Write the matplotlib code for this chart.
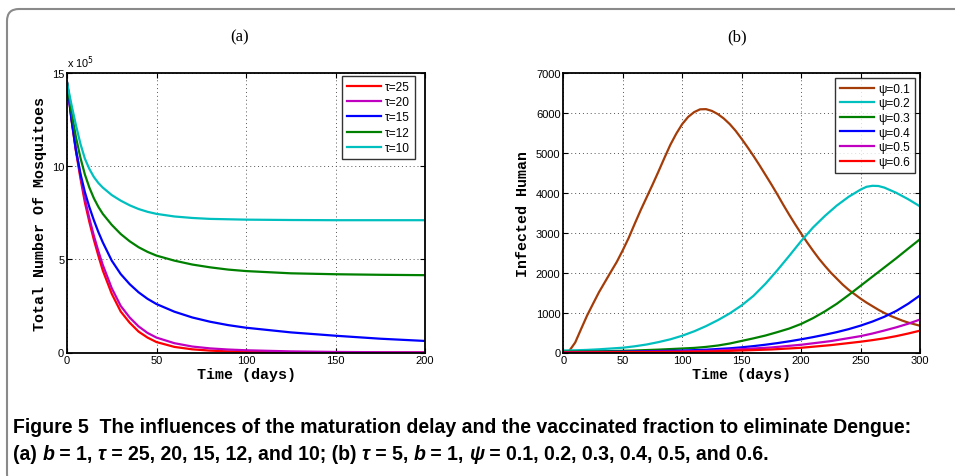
import matplotlib
matplotlib.use("Agg")
import matplotlib.pyplot as plt
from matplotlib.patches import FancyBboxPatch
from matplotlib.transforms import IdentityTransform

# ---------------- data ----------------
# Panel (a): total number of mosquitoes (units of 1e5)
t_a = [0, 2.5, 5, 7.5, 10, 12.5, 15, 17.5, 20, 25, 30, 35, 40, 45, 50, 60, 70, 80, 90, 100,
       125, 150, 175, 200]
tau25 = [14.5, 12.5, 10.8, 9.35, 8.05, 7.0, 6.05, 5.2, 4.4, 3.15, 2.2, 1.6, 1.12, 0.8, 0.56,
         0.3, 0.17, 0.1, 0.06, 0.04, 0.015, 0.005, 0.0, 0.0]
tau20 = [14.5, 12.6, 10.9, 9.5, 8.24, 7.2, 6.27, 5.45, 4.7, 3.45, 2.5, 1.88, 1.4, 1.05, 0.8,
         0.5, 0.32, 0.22, 0.16, 0.12, 0.06, 0.03, 0.015, 0.01]
tau15 = [14.5, 12.5, 10.85, 9.6, 8.6, 7.8, 7.1, 6.47, 5.91, 4.93, 4.21, 3.67, 3.23, 2.88, 2.6,
         2.19, 1.88, 1.65, 1.47, 1.33, 1.08, 0.9, 0.74, 0.62]
tau12 = [14.5, 12.9, 11.55, 10.45, 9.55, 8.85, 8.28, 7.82, 7.44, 6.85, 6.36, 5.97, 5.65, 5.4,
         5.2, 4.93, 4.72, 4.57, 4.45, 4.37, 4.25, 4.2, 4.17, 4.15]
tau10 = [14.5, 13.3, 12.2, 11.2, 10.4, 9.85, 9.42, 9.1, 8.85, 8.45, 8.15, 7.9, 7.7, 7.55, 7.44,
         7.3, 7.22, 7.17, 7.15, 7.13, 7.11, 7.1, 7.1, 7.1]
labels_a = ["τ=25", "τ=20", "τ=15", "τ=12", "τ=10"]
colors_a = ["#ff0000", "#c000c0", "#0000ff", "#008000", "#00bfbf"]

# Panel (b): infected human
t_psi01 = list(range(0, 301, 5))
psi01 = [0, 40, 250, 590, 925, 1220, 1510, 1765, 2020, 2270, 2560, 2870, 3220, 3560, 3880,
         4200, 4530, 4870, 5200, 5480, 5720, 5900, 6020, 6090, 6095, 6050, 5970, 5860, 5720,
         5550, 5350, 5140, 4920, 4690, 4450, 4210, 3960, 3700, 3450, 3210, 2980, 2760, 2550,
         2350, 2170, 2000, 1850, 1700, 1570, 1460, 1350, 1250, 1160, 1070, 990, 920, 860,
         800, 750, 710, 670]
t_psi02 = [0, 10, 20, 30, 40, 50, 60, 70, 80, 90, 100, 110, 120, 130, 140, 150, 160, 170,
           180, 190, 200, 210, 220, 230, 240, 250, 255, 260, 265, 270, 280, 290, 300]
psi02 = [50, 55, 65, 80, 100, 120, 155, 200, 260, 330, 420, 530, 660, 810, 980, 1180, 1420,
         1720, 2060, 2420, 2790, 3130, 3420, 3680, 3900, 4080, 4150, 4175, 4170, 4130, 4000,
         3840, 3660]
t_psi03 = [0, 20, 40, 60, 80, 100, 110, 120, 130, 140, 150, 160, 170, 180, 190, 200, 210,
           220, 230, 240, 250, 260, 270, 280, 290, 300]
psi03 = [20, 26, 35, 50, 72, 100, 115, 140, 175, 225, 290, 355, 425, 510, 600, 715, 860,
         1030, 1220, 1440, 1670, 1900, 2130, 2360, 2600, 2837]
t_psi04 = [0, 50, 100, 120, 140, 150, 160, 170, 180, 190, 200, 210, 220, 230, 240, 250, 260,
           270, 280, 290, 300]
psi04 = [10, 20, 48, 70, 105, 130, 160, 195, 235, 280, 330, 385, 445, 510, 585, 673, 775,
         895, 1040, 1220, 1430]
t_psi05 = [0, 50, 100, 125, 150, 175, 200, 225, 250, 260, 270, 280, 290, 300]
psi05 = [5, 12, 26, 45, 84, 126, 194, 285, 410, 475, 550, 630, 720, 825]
t_psi06 = [0, 50, 100, 125, 150, 175, 200, 225, 250, 260, 270, 280, 290, 300]
psi06 = [0, 8, 16, 27, 50, 76, 118, 185, 270, 310, 355, 410, 475, 547]
labels_b = ["ψ=0.1", "ψ=0.2", "ψ=0.3", "ψ=0.4", "ψ=0.5", "ψ=0.6"]
colors_b = ["#a33c08", "#00bfbf", "#008000", "#0000ff", "#c000c0", "#ff0000"]

xticks_a = [0, 50, 100, 150, 200]
yticks_a = [0, 5, 10, 15]
xticks_b = [0, 50, 100, 150, 200, 250, 300]
yticks_b = [0, 1000, 2000, 3000, 4000, 5000, 6000, 7000]

# ---------------- figure ----------------
W, H = 955, 477
fig = plt.figure(figsize=(W / 100, H / 100), dpi=100)
fig.patch.set_facecolor("white")

# rounded frame
frame = FancyBboxPatch((7, -10), 980, H - 6 + 10 - 4, boxstyle="round,pad=0,rounding_size=12",
                       transform=IdentityTransform(), fill=False, edgecolor="#8a8a8a",
                       linewidth=1.5, clip_on=False)
fig.patches.append(frame)

tick_font = dict(family=["Liberation Sans", "DejaVu Sans"], size=8)
label_font = dict(family=["Liberation Mono", "DejaVu Sans Mono"], weight="bold", size=10.8)
legend_prop = dict(family=["Liberation Sans", "DejaVu Sans"], size=8.6)


def style_axes(ax, xt, yt, xl, yl):
    ax.set_xticks(xt)
    ax.set_yticks(yt)
    ax.tick_params(direction="in", length=3.5, width=0.8, top=True, right=True, pad=2)
    for lab in ax.get_xticklabels() + ax.get_yticklabels():
        lab.set_fontfamily(tick_font["family"])
        lab.set_fontsize(tick_font["size"])
    ax.grid(True, linestyle=(0, (1, 3)), color="#555555", linewidth=0.7)
    for sp in ax.spines.values():
        sp.set_linewidth(1.3)
    ax.set_xlabel(xl, **label_font)
    ax.set_ylabel(yl, **label_font)


# panel (a)
aw, ah = 425 - 67, 353.5 - 74
ax1 = fig.add_axes([67 / W, 1 - 353.5 / H, aw / W, ah / H])
for y, lab, c in zip([tau25, tau20, tau15, tau12, tau10], labels_a, colors_a):
    ax1.plot(t_a, y, color=c, linewidth=1.6, label=lab, solid_joinstyle="round")
ax1.set_xlim(0, 200)
ax1.set_ylim(0, 15)
style_axes(ax1, xticks_a, yticks_a, "Time (days)", "Total Number Of Mosquitoes")
ax1.xaxis.set_label_coords(0.5, -0.077)
ax1.xaxis.label.set_va("center")
ax1.yaxis.set_label_coords((40 - 67) / aw, 0.5)
ax1.yaxis.label.set_va("center")
ax1.text(0.0, 1.012, r"x 10$^{5}$", transform=ax1.transAxes, ha="left", va="bottom",
         fontfamily=["Liberation Sans", "DejaVu Sans"], fontsize=7.8)
leg1 = ax1.legend(loc="upper right", bbox_to_anchor=(1 - 10 / aw, 1 - 3 / ah),
                  borderaxespad=0, prop=legend_prop, frameon=True, fancybox=False,
                  edgecolor="black", handlelength=2.9, labelspacing=0.28,
                  handletextpad=0.35, borderpad=0.4)
leg1.get_frame().set_linewidth(1.0)

# panel (b)
bw = 920 - 563.3
ax2 = fig.add_axes([563.3 / W, 1 - 353.5 / H, bw / W, ah / H])
for x, y, lab, c in zip([t_psi01, t_psi02, t_psi03, t_psi04, t_psi05, t_psi06],
                        [psi01, psi02, psi03, psi04, psi05, psi06], labels_b, colors_b):
    ax2.plot(x, y, color=c, linewidth=1.6, label=lab, solid_joinstyle="round")
ax2.set_xlim(0, 300)
ax2.set_ylim(0, 7000)
style_axes(ax2, xticks_b, yticks_b, "Time (days)", "Infected Human")
ax2.xaxis.set_label_coords(0.5, -0.077)
ax2.xaxis.label.set_va("center")
ax2.yaxis.set_label_coords((523 - 563.3) / bw, 0.5)
ax2.yaxis.label.set_va("center")
leg2 = ax2.legend(loc="upper right", bbox_to_anchor=(1 - 5 / bw, 1 - 5 / ah),
                  borderaxespad=0, prop=legend_prop, frameon=True, fancybox=False,
                  edgecolor="black", handlelength=2.9, labelspacing=0.22,
                  handletextpad=0.35, borderpad=0.4)
leg2.get_frame().set_linewidth(1.0)

# panel titles
title_font = dict(family=["Liberation Serif", "DejaVu Serif"], size=12)
fig.text(240 / W, 1 - 37 / H, "(a)", ha="center", va="center", **title_font)
fig.text(737 / W, 1 - 37 / H, "(b)", ha="center", va="center", **title_font)

# caption
renderer = fig.canvas.get_renderer()
line1 = [("Figure 5  The influences of the maturation delay and the vaccinated fraction to eliminate Dengue:", "normal")]
line2 = [("(a) ", "normal"), ("b", "italic"), (" = 1, ", "normal"), ("τ", "italic"),
         (" = 25, 20, 15, 12, and 10; (b) ", "normal"), ("τ", "italic"), (" = 5, ", "normal"),
         ("b", "italic"), (" = 1, ", "normal"), ("ψ", "italic"),
         (" = 0.1, 0.2, 0.3, 0.4, 0.5, and 0.6.", "normal")]

# choose the most condensed available bold sans so line 1 spans ~900 px with the tallest glyphs
best = None
for fam, stretch in [(["DejaVu Sans"], "condensed"), (["Liberation Sans", "DejaVu Sans"], "normal")]:
    probe = fig.text(0, 0, line1[0][0], fontsize=10, fontweight="bold", family=fam,
                     fontstretch=stretch, transform=IdentityTransform())
    pw = probe.get_window_extent(renderer).width
    probe.remove()
    size = 10 * 900 / pw
    if best is None or size > best[2]:
        best = (fam, stretch, size)
cap_family, cap_stretch, cap_size = best


def draw_pieces(x0, y_center, pieces, size):
    x = x0
    for s, style in pieces:
        t = fig.text(x, H - y_center, s, transform=IdentityTransform(), ha="left",
                     va="center_baseline", fontsize=size, fontweight="bold",
                     fontstyle=style, family=cap_family, fontstretch=cap_stretch)
        x += t.get_window_extent(renderer).width
    return x - x0


draw_pieces(13, 426, line1, cap_size)
draw_pieces(13, 453, line2, cap_size)

fig.savefig("out.png", dpi=100, facecolor="white")
